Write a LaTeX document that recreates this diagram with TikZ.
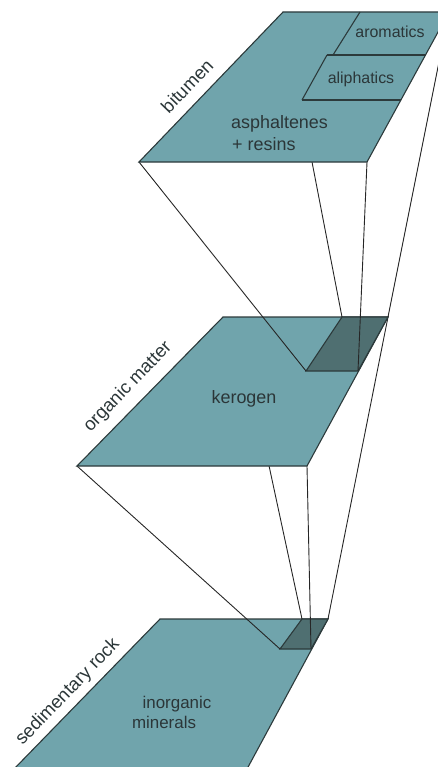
\documentclass[tikz,border=0pt]{standalone}
\usepackage{fontspec}
\setmainfont{Liberation Sans}
\definecolor{plane}{HTML}{70A4AC}
\definecolor{subset}{HTML}{4F6F71}
\definecolor{edge}{HTML}{2C3A3B}
\definecolor{ink}{HTML}{2B3638}
\begin{document}
\begin{tikzpicture}[x=1bp,y=-1bp,
  layer/.style={fill=plane,draw=edge,line width=1.1bp,line join=miter},
  core/.style={fill=subset,draw=edge,line width=1.1bp,line join=miter},
  link/.style={draw=black!85,line width=0.9bp},
  lbl/.style={text=ink,inner sep=0pt},
  inlbl/.style={lbl,anchor=base,font=\fontsize{18}{22}\selectfont},
  smlbl/.style={lbl,anchor=base,font=\fontsize{16}{19}\selectfont},
  side/.style={lbl,rotate=46,font=\fontsize{18.5}{22}\selectfont},
]
\useasboundingbox (0,0) rectangle (438,767);
\clip (0,0) rectangle (438,767);

% corners of the three layers
\coordinate (tTL) at (283,12);  \coordinate (tTR) at (449,12);
\coordinate (tBR) at (367,162); \coordinate (tBL) at (139,162);
\coordinate (mTL) at (223,317); \coordinate (mTR) at (388,317);
\coordinate (mBR) at (307,466); \coordinate (mBL) at (77,466);
\coordinate (bTL) at (160,619); \coordinate (bTR) at (328,619);
\coordinate (bBR) at (247,769); \coordinate (bBL) at (14,769);
% sub-regions that the layer above expands
\coordinate (mcTL) at (342,317); \coordinate (mcTR) at (388,317);
\coordinate (mcBR) at (358,371); \coordinate (mcBL) at (306,371);
\coordinate (bcTL) at (302,619); \coordinate (bcTR) at (328,619);
\coordinate (bcBR) at (311,649); \coordinate (bcBL) at (280,649);
% hidden start of the back projection line under the middle layer
\coordinate (mTLh) at (237,317);

% sedimentary rock
\draw[layer] (bTL) -- (bTR) -- (bBR) -- (bBL) -- cycle;
\draw[core] (bcTL) -- (bcTR) -- (bcBR) -- (bcBL) -- cycle;
\node[side] (lrock) at (68,692) {sedimentary rock};
\node[inlbl,font=\fontsize{17}{20}\selectfont] (linorg) at (177,708) {inorganic};
\node[inlbl,font=\fontsize{17}{20}\selectfont] (lmin) at (164,728) {minerals};

% projections from the organic matter layer
\draw[link] (mBL) -- (bcBL);
\draw[link] (mTLh) -- (bcTL);
\draw[link] (mBR) -- (bcBR);
\draw[link] (mTR) -- (bcTR);

% organic matter
\draw[layer] (mTL) -- (mTR) -- (mBR) -- (mBL) -- cycle;
\draw[core] (mcTL) -- (mcTR) -- (mcBR) -- (mcBL) -- cycle;
\node[side] (lorg) at (128,387) {organic matter};
\node[inlbl] (lker) at (244,403) {kerogen};

% projections from the bitumen layer
\draw[link] (tBL) -- (mcBL);
\draw[link] (tTL) -- (mcTL);
\draw[link] (tBR) -- (mcBR);
\draw[link] (tTR) -- (mcTR);

% bitumen
\draw[layer] (tTL) -- (tTR) -- (tBR) -- (tBL) -- cycle;
\coordinate (arA) at (360,12);  \coordinate (arB) at (333,55);
\coordinate (alA) at (327,55);  \coordinate (alB) at (302,100);
\coordinate (arR) at (425.5,55); \coordinate (alR) at (401,100);
\draw[edge,line width=1.1bp] (arA) -- (arB);
\draw[edge,line width=1.1bp] (alA) -- (arR);
\draw[edge,line width=1.1bp] (alB) -- (alA);
\draw[edge,line width=1.1bp] (alB) -- (alR);
\node[side] (lbit) at (187,86) {bitumen};
\node[smlbl] (larom) at (390,38) {aromatics};
\node[smlbl] (laliph) at (361,83) {aliphatics};
\node[inlbl,anchor=base west] (lasph) at (231,128) {asphaltenes};
\node[inlbl,anchor=base west] (lres) at (232,150) {+ resins};
\end{tikzpicture}
\end{document}
